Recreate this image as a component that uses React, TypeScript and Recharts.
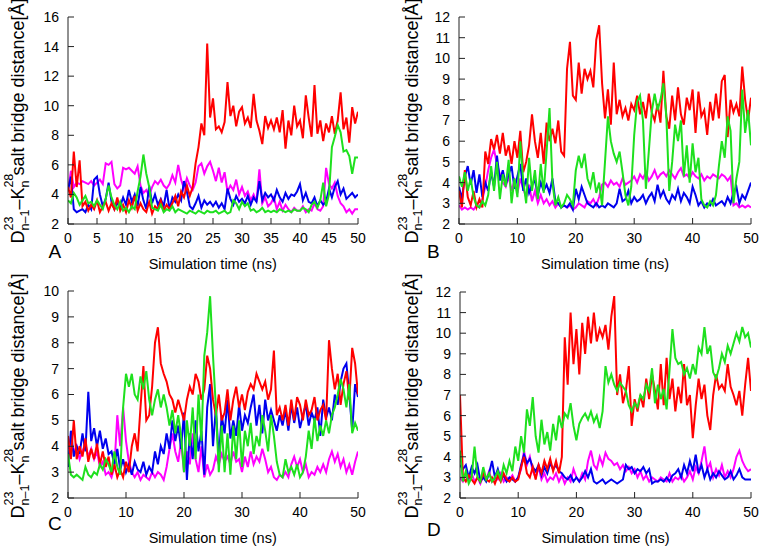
import React from 'react';
import { LineChart, Line, XAxis, YAxis } from 'recharts';

// time axis: 0..50 ns, every 0.5 ns
const TIME = Array.from({ length: 101 }, (_, i) => i * 0.5);

const TICKS_X_A = [0, 5, 10, 15, 20, 25, 30, 35, 40, 45, 50];
const TICKS_X = [0, 10, 20, 30, 40, 50];
const TICKS_Y_A = [2, 4, 6, 8, 10, 12, 14, 16];
const TICKS_Y_B = [2, 3, 4, 5, 6, 7, 8, 9, 10, 11, 12];
const TICKS_Y_C = [2, 3, 4, 5, 6, 7, 8, 9, 10];
const TICKS_Y_D = [2, 3, 4, 5, 6, 7, 8, 9, 10, 11, 12];

// ---------- Panel A ----------
const aRed = [
  4.5, 3.8, 6.9, 4.5, 6.3, 3.2, 3.5, 2.9, 3.3, 3.0,
  3.6, 2.8, 3.2, 3.5, 2.9, 3.4, 3.0, 3.8, 2.9, 3.3,
  2.8, 3.6, 3.1, 3.9, 2.9, 3.4, 3.0, 2.8, 3.5, 2.7,
  3.2, 3.0, 3.6, 2.9, 3.3, 3.0, 3.4, 3.9, 3.2, 4.2,
  3.8, 4.6, 3.9, 4.5, 6.1, 7.2, 8.8, 8.0, 14.2, 9.2,
  10.5, 8.4, 8.6, 8.2, 8.9, 11.6, 9.3, 10.0, 8.6, 9.6,
  9.9, 8.8, 9.2, 8.5, 10.8, 9.0, 8.3, 7.4, 9.3, 8.5,
  9.0, 8.4, 9.2, 8.2, 9.7, 7.1, 9.0, 8.0, 10.0, 8.6,
  9.0, 7.8, 10.7, 9.2, 7.9, 11.4, 8.1, 9.0, 7.6, 8.8,
  8.2, 9.3, 8.1, 9.0, 10.9, 8.4, 9.2, 7.5, 9.9, 8.8,
  9.6,
];
const aBlue = [
  4.3, 5.2, 3.0, 2.8, 2.9, 3.0, 2.8, 3.3, 3.0, 5.0,
  5.2, 4.0, 3.2, 3.7, 4.8, 3.5, 3.0, 3.4, 3.2, 3.8,
  3.3, 4.3, 3.5, 4.0, 3.2, 4.5, 3.6, 3.0, 4.6, 3.4,
  4.0, 3.3, 3.7, 3.2, 4.3, 3.0, 3.8, 3.5, 4.0, 3.6,
  4.9, 4.2, 3.2, 3.0, 3.4, 3.9, 3.1, 3.6, 3.3, 3.5,
  3.2, 3.5, 3.1, 3.4, 3.0, 4.4, 3.7, 3.3, 3.9, 3.5,
  3.7, 3.4, 3.9, 3.3, 3.8, 3.5, 4.9, 3.6, 4.1, 3.8,
  4.0, 3.6, 4.3, 3.8, 3.5, 4.1, 3.7, 4.0, 3.9, 4.2,
  4.7, 3.6, 4.1, 3.5, 3.4, 3.8, 3.2, 3.6, 3.3, 3.5,
  4.4, 3.8, 4.5, 4.9, 4.0, 4.4, 3.7, 3.9, 4.1, 3.8,
  4.0,
];
const aMagenta = [
  4.2, 5.6, 4.5, 4.8, 4.7, 4.9, 4.8, 4.7, 4.9, 4.6,
  4.8, 5.0, 4.7, 6.1, 6.0, 6.2, 4.7, 4.4, 4.6, 5.8,
  5.7, 5.8, 5.6, 5.4, 5.9, 4.6, 4.1, 4.3, 3.9, 4.5,
  4.9, 4.7, 5.0, 4.6, 4.4, 4.7, 5.3, 4.8, 6.0, 5.0,
  4.4, 5.1, 4.6, 4.3, 4.8, 5.9, 6.1, 5.4, 5.9, 6.2,
  5.6, 4.9, 5.8, 4.8, 5.5, 4.2, 4.6, 4.3, 5.0, 4.0,
  4.5, 3.9, 4.2, 3.6, 4.0, 3.5, 5.7, 3.4, 3.8, 3.2,
  3.4, 3.8, 3.0, 3.5, 2.9, 3.3, 3.0, 2.8, 3.1, 2.9,
  2.9, 3.2, 2.8, 3.0, 2.9, 3.4, 3.0, 2.9, 3.2, 5.8,
  4.7, 4.4, 4.8, 3.9, 3.4, 3.2, 2.8, 3.0, 2.7, 3.0,
  3.0,
];
const aGreen = [
  3.6, 3.4, 4.1, 3.8, 3.3, 3.6, 3.9, 3.4, 3.5, 3.2,
  3.6, 3.3, 3.0, 3.7, 4.6, 3.8, 3.3, 3.0, 3.5, 2.9,
  3.1, 2.8, 3.2, 3.0, 4.2, 5.2, 6.7, 5.4, 4.5, 3.1,
  3.0, 2.9, 3.3, 2.8, 3.0, 2.9, 3.2, 2.8, 3.0, 2.9,
  2.8, 2.7, 2.9, 2.8, 2.7, 2.9, 2.8, 2.7, 2.9, 2.8,
  2.8, 2.9, 2.7, 2.8, 2.9, 2.7, 2.8, 3.6, 3.4, 3.0,
  3.5, 3.2, 3.4, 2.9, 3.0, 2.8, 2.9, 3.1, 2.8, 2.9,
  2.8, 2.9, 2.8, 3.0, 2.9, 2.8, 2.9, 2.8, 3.0, 2.9,
  2.9, 3.1, 3.0, 2.8, 3.3, 3.5, 3.1, 3.6, 4.8, 3.2,
  4.0, 7.2, 7.9, 8.7, 8.2, 6.9, 7.0, 6.6, 5.4, 6.5,
  6.5,
];

// ---------- Panel B ----------
const bRed = [
  3.6, 2.8, 4.6, 3.3, 2.9, 3.6, 2.8, 3.2, 2.8, 5.5,
  4.9, 6.1, 5.6, 6.3, 5.4, 6.4, 5.3, 5.8, 4.9, 6.0,
  5.2, 6.5, 4.5, 5.0, 5.8, 7.3, 6.0, 5.2, 6.4, 4.9,
  6.9, 6.0, 6.6, 5.9, 7.0, 5.5, 5.3, 9.5, 10.8, 8.2,
  8.0, 9.8, 8.3, 9.5, 9.0, 9.4, 8.6, 10.9, 11.6, 8.8,
  7.1, 8.5, 6.8, 9.8, 7.3, 8.0, 7.2, 7.6, 7.0, 7.8,
  7.5, 8.2, 7.3, 7.9, 7.1, 8.3, 7.4, 7.0, 7.8, 6.9,
  9.4, 7.2, 6.6, 8.2, 7.0, 8.6, 7.3, 6.8, 8.1, 7.5,
  8.5, 6.4, 8.4, 7.2, 7.5, 6.3, 7.9, 7.0, 8.3, 7.1,
  8.9, 9.2, 6.2, 8.0, 7.4, 7.8, 7.2, 9.6, 8.0, 7.0,
  8.1,
];
const bBlue = [
  3.8, 3.2, 4.3, 4.8, 3.9, 4.6, 3.5, 4.4, 3.3, 4.0,
  3.6, 4.5, 3.8, 5.3, 4.1, 4.6, 3.9, 4.4, 4.8, 3.7,
  4.3, 4.9, 3.6, 4.2, 3.5, 3.9, 4.1, 3.4, 4.0, 3.6,
  3.9, 3.5, 4.2, 3.1, 3.0, 2.8, 2.9, 2.8, 3.0, 2.7,
  3.7, 3.2, 3.8, 3.4, 3.0, 2.9, 2.8, 3.0, 2.8, 2.9,
  2.8, 3.0, 2.9, 2.8, 3.0, 3.7, 3.1, 3.2, 3.6, 3.0,
  3.3, 3.1, 3.2, 3.4, 3.0, 3.3, 3.5, 3.1, 3.9, 3.3,
  3.6, 3.2, 3.0, 3.4, 3.2, 3.7, 3.1, 3.5, 3.3, 3.0,
  3.8, 3.4, 2.9, 3.1, 2.8, 3.0, 2.9, 3.2, 2.9, 3.0,
  3.1, 2.9, 3.3, 3.0, 3.5, 3.8, 3.0, 3.4, 3.2, 3.6,
  4.0,
];
const bMagenta = [
  2.9, 2.7, 2.8, 2.7, 2.8, 2.7, 2.9, 2.8, 3.2, 3.8,
  4.6, 5.2, 5.6, 4.9, 4.4, 4.0, 3.8, 4.3, 3.6, 4.1,
  3.5, 4.2, 3.7, 3.3, 3.9, 3.1, 3.6, 3.0, 3.4, 3.0,
  3.2, 2.9, 3.1, 2.8, 3.0, 2.8, 2.9, 2.8, 2.9, 2.7,
  2.8, 3.0, 2.9, 2.8, 3.1, 3.0, 3.2, 2.9, 3.3, 3.9,
  4.0, 3.8, 4.1, 3.9, 4.0, 3.8, 4.2, 3.9, 4.0, 4.1,
  4.3, 4.0, 4.4, 4.2, 4.5, 4.1, 4.3, 4.6, 4.2, 4.4,
  4.5, 4.3, 4.6, 4.4, 4.2, 4.5, 4.7, 4.3, 4.4, 4.2,
  4.5, 4.3, 4.2, 4.4, 4.1, 4.3, 4.2, 4.4, 4.3, 4.2,
  4.4, 4.3, 4.1, 4.3, 2.9, 3.0, 2.8, 2.9, 2.8, 2.9,
  2.8,
];
const bGreen = [
  4.3, 3.8, 4.5, 3.6, 4.2, 3.3, 2.9, 2.8, 3.1, 2.9,
  3.4, 4.8, 3.6, 5.0, 3.2, 4.4, 3.8, 5.1, 3.0, 4.2,
  3.3, 6.0, 4.1, 3.0, 5.2, 3.6, 4.6, 3.2, 4.9, 3.5,
  5.5, 7.6, 4.0, 2.9, 3.3, 2.8, 3.0, 3.4, 3.2, 2.9,
  4.6, 5.3, 4.7, 5.4, 4.2, 3.8, 4.5, 3.5, 4.0, 2.9,
  5.0, 7.2, 6.0, 5.4, 5.0, 5.5, 4.5, 3.4, 2.9, 3.8,
  6.3, 7.9, 8.2, 7.0, 3.7, 5.5, 7.4, 8.3, 7.5, 8.0,
  8.8, 7.2, 3.6, 5.0, 6.8, 6.0, 7.0, 4.3, 5.8, 4.0,
  5.9, 4.5, 5.2, 3.2, 2.9, 2.8, 3.1, 2.9, 3.4, 4.8,
  6.0, 5.2, 7.2, 6.5, 3.0, 4.2, 5.0, 8.5, 6.4, 7.5,
  5.8,
];

// ---------- Panel C ----------
const cRed = [
  4.4, 3.5, 5.0, 3.5, 4.0, 3.6, 4.3, 3.4, 3.9, 3.5,
  4.1, 3.3, 3.8, 3.2, 3.6, 2.9, 3.3, 2.8, 3.1, 2.8,
  3.4, 3.0, 4.0, 4.5, 3.8, 5.5, 7.1, 5.0, 5.2, 6.3,
  8.0, 8.6, 7.2, 6.8, 6.5, 6.0, 5.8, 5.3, 5.8, 5.4,
  5.0, 5.8, 6.3, 6.0, 6.8, 6.5, 5.8, 6.2, 7.5, 7.0,
  5.8, 5.2, 6.0, 5.0, 5.3, 6.2, 5.0, 5.8, 6.3, 5.5,
  6.0, 5.4, 6.1, 6.4, 6.2, 6.8, 6.5, 6.2, 6.5, 5.8,
  6.2, 7.7, 5.2, 5.5, 5.0, 5.6, 4.8, 5.8, 5.0, 5.9,
  5.6, 5.0, 5.8, 5.2, 5.4, 5.9, 5.0, 5.4, 5.6, 5.0,
  8.1, 7.0, 6.2, 6.8, 5.6, 6.4, 6.9, 5.8, 7.8, 7.2,
  6.0,
];
const cBlue = [
  3.2, 4.6, 3.6, 4.0, 3.7, 4.5, 3.8, 6.1, 4.2, 4.7,
  4.0, 4.6, 3.9, 4.3, 3.7, 3.8, 3.3, 3.9, 3.1, 3.5,
  3.0, 3.3, 2.9, 3.4, 3.1, 3.0, 3.4, 2.9, 3.2, 3.0,
  3.8, 3.3, 4.0, 3.7, 4.5, 3.9, 5.0, 4.2, 4.8, 3.9,
  5.3, 2.7, 4.5, 3.5, 5.0, 3.8, 4.6, 2.9, 5.5, 6.4,
  4.0, 5.5, 3.5, 5.2, 4.5, 5.8, 4.3, 5.0, 4.4, 5.6,
  4.6, 5.2, 4.9, 5.5, 6.0, 4.8, 5.6, 4.5, 5.8, 5.0,
  5.4, 5.0, 4.6, 5.2, 4.8, 5.4, 4.6, 5.6, 4.9, 5.5,
  4.7, 5.2, 5.6, 4.8, 5.3, 5.0, 5.5, 4.4, 5.8, 5.1,
  5.5, 5.0, 6.0, 5.6, 6.5, 7.0, 7.2, 6.0, 4.6, 6.4,
  5.9,
];
const cMagenta = [
  3.9, 4.2, 3.8, 4.0, 3.5, 3.8, 4.1, 3.6, 3.9, 3.5,
  3.8, 3.2, 3.4, 2.9, 3.0, 2.8, 3.2, 5.2, 4.0, 5.5,
  4.2, 3.4, 3.0, 2.8, 3.0, 2.7, 2.9, 2.8, 2.7, 3.0,
  2.8, 3.0, 2.9, 2.7, 3.2, 3.9, 4.5, 3.8, 3.4, 4.2,
  3.0, 3.8, 3.3, 4.5, 3.5, 3.0, 4.0, 2.8, 3.3, 2.9,
  3.1, 3.6, 3.3, 3.7, 3.4, 3.6, 3.3, 3.8, 3.4, 3.5,
  3.0, 3.6, 3.2, 3.8, 3.3, 3.6, 3.4, 3.9, 3.5, 3.0,
  3.2, 2.8, 2.7, 2.9, 2.8, 3.0, 2.8, 3.3, 3.6, 3.2,
  3.5, 3.0, 3.3, 2.8, 3.0, 2.9, 3.2, 3.0, 3.3, 3.0,
  3.5, 3.8, 3.4, 3.7, 3.2, 3.5, 3.0, 3.3, 2.9, 3.4,
  3.8,
];
const cGreen = [
  3.7, 2.9, 2.8, 2.9, 2.8, 2.7, 3.2, 2.9, 2.8, 3.0,
  2.9, 3.3, 3.1, 3.5, 3.3, 3.0, 3.8, 3.2, 2.9, 5.5,
  6.8, 6.3, 6.8, 6.0, 5.8, 6.7, 6.2, 6.9, 5.8, 5.2,
  5.8, 6.2, 5.5, 6.0, 5.5, 4.8, 5.4, 4.5, 5.2, 4.4,
  3.0, 5.0, 4.0, 5.5, 3.5, 6.0, 4.2, 7.5, 8.4, 9.8,
  7.5, 5.5, 3.0, 4.8, 3.0, 4.5, 2.9, 4.8, 3.5, 5.0,
  3.2, 4.6, 4.0, 4.9, 3.7, 4.4, 4.0, 5.2, 4.6, 3.8,
  5.2, 4.4, 3.4, 2.9, 2.8, 3.5, 3.0, 3.2, 2.9, 3.3,
  2.8, 3.0, 3.6, 4.6, 3.9, 5.1, 4.2, 4.8, 4.4, 5.0,
  4.5, 5.2, 5.5, 6.0, 6.6, 6.2, 5.5, 6.4, 4.5, 4.9,
  4.6,
];

// ---------- Panel D ----------
const dRed = [
  7.0, 3.0, 2.8, 3.1, 2.9, 2.7, 3.0, 2.8, 3.2, 2.9,
  2.8, 3.0, 2.7, 3.1, 2.8, 3.2, 2.9, 2.8, 3.0, 2.8,
  2.9, 3.5, 4.0, 3.2, 3.0, 3.5, 2.9, 3.6, 3.2, 3.8,
  3.4, 3.9, 3.3, 3.8, 3.2, 4.0, 9.8, 7.5, 11.0, 8.5,
  10.2, 8.0, 10.5, 9.0, 10.8, 9.5, 11.0, 9.6, 10.2, 9.8,
  10.4, 9.2, 10.8, 11.8, 7.0, 8.0, 6.6, 7.2, 8.4, 5.5,
  6.8, 6.2, 7.0, 6.4, 7.8, 6.8, 8.0, 7.2, 6.3, 8.5,
  6.5, 8.8, 6.8, 7.8, 6.2, 7.4, 6.6, 8.5, 6.5, 7.0,
  4.9, 6.5, 7.8, 6.8, 7.5, 6.0, 5.3, 7.0, 8.0, 7.3,
  7.5, 7.2, 8.5, 7.4, 7.0, 6.5, 7.2, 6.0, 7.5, 8.8,
  7.2,
];
const dBlue = [
  3.6, 3.4, 3.6, 3.0, 3.5, 3.2, 3.6, 2.8, 3.0, 2.8,
  3.2, 3.8, 3.0, 3.4, 2.9, 3.1, 2.8, 3.0, 2.9, 2.8,
  3.0, 3.6, 4.1, 3.7, 3.9, 3.5, 3.3, 3.6, 3.1, 3.5,
  3.2, 3.7, 3.4, 3.6, 3.3, 3.2, 3.0, 2.9, 3.1, 2.8,
  3.0, 2.8, 3.0, 3.3, 3.0, 3.4, 2.8, 2.7, 2.8, 2.9,
  2.7, 2.8, 2.9, 2.8, 2.7, 2.8, 2.9, 3.6, 3.4, 3.5,
  3.2, 3.4, 3.3, 3.5, 3.2, 3.4, 2.7, 2.8, 2.8, 2.9,
  2.8, 3.0, 2.8, 3.1, 3.2, 3.4, 3.0, 3.6, 3.2, 3.8,
  3.3, 4.1, 3.2, 3.6, 3.0, 3.4, 2.9, 3.2, 3.0, 3.3,
  3.1, 2.9, 3.0, 3.3, 2.9, 3.1, 3.4, 3.0, 2.9, 2.9,
  2.9,
];
const dMagenta = [
  3.0, 2.8, 3.1, 2.9, 3.2, 2.8, 3.0, 2.7, 3.1, 2.9,
  3.3, 2.8, 3.0, 2.9, 3.2, 2.8, 3.0, 2.9, 3.1, 2.8,
  3.0, 3.4, 4.3, 3.6, 4.0, 3.3, 3.0, 3.5, 2.9, 3.2,
  2.8, 3.0, 2.9, 3.2, 2.8, 3.1, 2.7, 3.0, 2.8, 3.4,
  3.0, 2.8, 3.2, 2.9, 3.8, 4.3, 3.6, 3.4, 4.0, 3.6,
  4.2, 3.9, 3.8, 3.6, 3.7, 3.4, 3.6, 3.3, 3.5, 3.2,
  3.4, 3.0, 3.3, 2.9, 3.1, 2.8, 3.0, 2.9, 2.8, 3.0,
  2.9, 2.8, 3.2, 2.8, 3.0, 2.9, 3.1, 2.8, 3.0, 3.3,
  2.9, 3.5, 3.2, 3.8, 4.5, 3.4, 3.7, 3.0, 3.4, 3.1,
  3.6, 3.0, 3.3, 3.0, 3.4, 4.0, 4.3, 3.8, 3.5, 3.3,
  3.4,
];
const dGreen = [
  4.3, 2.8, 3.3, 2.7, 3.0, 4.5, 3.0, 2.8, 3.5, 2.9,
  3.2, 2.8, 3.0, 3.3, 2.9, 3.6, 3.2, 3.8, 3.3, 4.5,
  3.8, 5.0, 4.2, 6.3, 5.5, 6.9, 5.0, 4.2, 5.8, 4.6,
  5.2, 4.3, 5.6, 4.8, 6.0, 5.4, 6.1, 5.9, 6.6, 5.5,
  4.8, 5.6, 5.9, 6.1, 5.8, 6.2, 5.7, 6.0, 5.4, 6.2,
  8.4, 7.6, 8.0, 7.5, 7.2, 7.6, 7.4, 7.2, 6.5, 6.2,
  6.6, 6.4, 7.0, 6.8, 7.5, 7.2, 8.3, 6.6, 7.5, 6.8,
  7.3, 6.3, 8.2, 10.2, 8.8, 8.5, 8.6, 8.0, 8.3, 7.8,
  8.5, 8.0, 9.3, 9.0, 10.3, 9.0, 9.4, 8.1, 7.8, 8.3,
  9.0, 8.6, 9.4, 9.0, 9.5, 10.0, 9.6, 10.3, 9.8, 10.0,
  9.3,
];

const COLORS = { magenta: '#ff00ff', blue: '#0000ee', red: '#ff0000', green: '#1ee01e' };
const FONT = '"Liberation Sans", Arial, Helvetica, sans-serif';

function rows(red: number[], green: number[], blue: number[], magenta: number[]) {
  return TIME.map((t, i) => ({ t, red: red[i], green: green[i], blue: blue[i], magenta: magenta[i] }));
}

type PanelProps = {
  left: number; top: number; width: number; height: number;
  margin: { top: number; right: number; bottom: number; left: number };
  yAxisWidth: number;
  data: any[];
  yDomain: [number, number];
  yTicks: number[];
  xTicks: number[];
};

function Panel(p: PanelProps) {
  const tickStyle = { fontSize: 14, fill: '#000', fontFamily: FONT };
  return (
    <div style={{ position: 'absolute', left: p.left, top: p.top }}>
      <LineChart width={p.width} height={p.height} data={p.data} margin={p.margin}>
        <XAxis dataKey="t" type="number" domain={[0, 50]} ticks={p.xTicks} interval={0}
          height={30} tickSize={-6} tickMargin={15} stroke="#222" tick={tickStyle} allowDataOverflow />
        <XAxis xAxisId="top" orientation="top" dataKey="t" type="number" domain={[0, 50]} ticks={p.xTicks}
          interval={0} height={0} tickSize={-6} tick={false} stroke="#222" allowDataOverflow />
        <YAxis type="number" domain={p.yDomain} ticks={p.yTicks} interval={0} width={p.yAxisWidth}
          tickSize={-6} tickMargin={15} stroke="#222" tick={tickStyle} allowDataOverflow />
        <YAxis yAxisId="r" orientation="right" type="number" domain={p.yDomain} ticks={p.yTicks} interval={0}
          width={0} tickSize={-6} tick={false} stroke="#222" allowDataOverflow />
        <Line dataKey="magenta" stroke={COLORS.magenta} strokeWidth={2} dot={false} isAnimationActive={false} type="linear" />
        <Line dataKey="blue" stroke={COLORS.blue} strokeWidth={2} dot={false} isAnimationActive={false} type="linear" />
        <Line dataKey="red" stroke={COLORS.red} strokeWidth={2} dot={false} isAnimationActive={false} type="linear" />
        <Line dataKey="green" stroke={COLORS.green} strokeWidth={2} dot={false} isAnimationActive={false} type="linear" />
      </LineChart>
    </div>
  );
}

function YLabel({ x, y }: { x: number; y: number }) {
  return (
    <text transform={`translate(${x},${y}) rotate(-90)`} textAnchor="middle" fontSize={18} fontFamily={FONT} fill="#000">
      D
      <tspan dy={-11} fontSize={12.5}>23</tspan>
      <tspan dx={-13.9} dy={15.5} fontSize={12.5}>n–1</tspan>
      <tspan dy={-4.5}>–K</tspan>
      <tspan dy={-11} fontSize={12.5}>28</tspan>
      <tspan dx={-13.9} dy={15.5} fontSize={12.5}>n</tspan>
      <tspan dy={-4.5}> salt bridge distance[Å]</tspan>
    </text>
  );
}

export default function App() {
  const dataA = rows(aRed, aGreen, aBlue, aMagenta);
  const dataB = rows(bRed, bGreen, bBlue, bMagenta);
  const dataC = rows(cRed, cGreen, cBlue, cMagenta);
  const dataD = rows(dRed, dGreen, dBlue, dMagenta);
  return (
    <div style={{ position: 'absolute', left: 0, top: 0, width: 764, height: 549, background: '#fff', overflow: 'hidden' }}>
      <Panel left={0} top={0} width={380} height={275} margin={{ top: 17, right: 22, bottom: 21, left: 0 }}
        yAxisWidth={68} data={dataA} yDomain={[2, 16]} yTicks={TICKS_Y_A} xTicks={TICKS_X_A} />
      <Panel left={380} top={0} width={384} height={275} margin={{ top: 17, right: 13, bottom: 21, left: 0 }}
        yAxisWidth={79} data={dataB} yDomain={[2, 12]} yTicks={TICKS_Y_B} xTicks={TICKS_X} />
      <Panel left={0} top={275} width={380} height={274} margin={{ top: 16, right: 22, bottom: 21, left: 0 }}
        yAxisWidth={68} data={dataC} yDomain={[2, 10]} yTicks={TICKS_Y_C} xTicks={TICKS_X} />
      <Panel left={380} top={275} width={384} height={274} margin={{ top: 17, right: 13, bottom: 21, left: 0 }}
        yAxisWidth={80} data={dataD} yDomain={[2, 12]} yTicks={TICKS_Y_D} xTicks={TICKS_X} />
      <svg width={764} height={549} style={{ position: 'absolute', left: 0, top: 0, pointerEvents: 'none' }}>
        <g fontFamily={FONT} fill="#000">
          <text x={212.7} y={268.5} textAnchor="middle" fontSize={14.5}>Simulation time (ns)</text>
          <text x={605} y={268.5} textAnchor="middle" fontSize={14.5}>Simulation time (ns)</text>
          <text x={212.7} y={542.5} textAnchor="middle" fontSize={14.5}>Simulation time (ns)</text>
          <text x={605.5} y={542.5} textAnchor="middle" fontSize={14.5}>Simulation time (ns)</text>
          <text x={48.5} y={258.3} fontSize={19}>A</text>
          <text x={427} y={258.3} fontSize={19}>B</text>
          <text x={48} y={530} fontSize={19}>C</text>
          <text x={427} y={536} fontSize={19}>D</text>
        </g>
        <YLabel x={24} y={121} />
        <YLabel x={417.5} y={121} />
        <YLabel x={24} y={396} />
        <YLabel x={417.5} y={396} />
      </svg>
    </div>
  );
}
